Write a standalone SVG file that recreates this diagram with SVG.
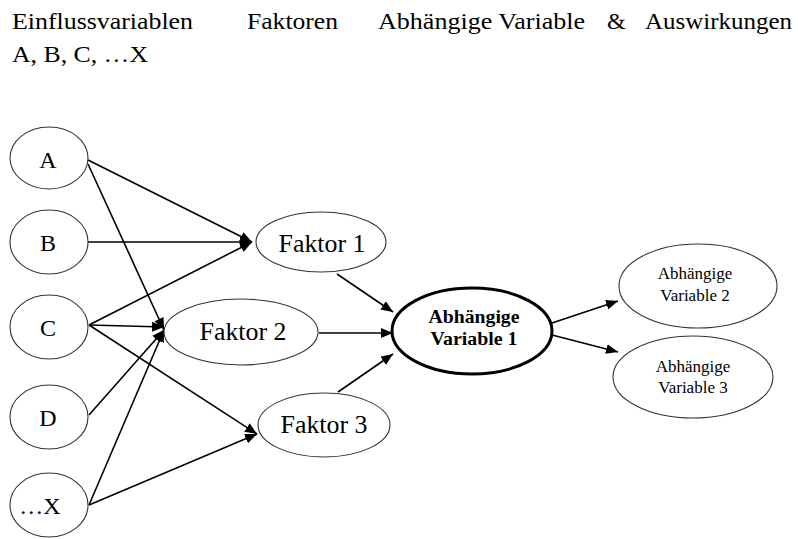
<svg xmlns="http://www.w3.org/2000/svg" width="798" height="539" viewBox="0 0 798 539">
<style>
text{font-family:"Liberation Serif","Times New Roman",serif;fill:#000}
.hd{font-size:24px}
.n{fill:#fff;stroke:#333;stroke-width:1.1}
.lb{font-size:24px;text-anchor:middle}
.fk{font-size:25px;text-anchor:middle}
.sm{font-size:17px;text-anchor:middle}
.bd{font-size:18px;font-weight:bold;text-anchor:middle}
.c line{stroke:#000;stroke-width:1.6;marker-end:url(#ah)}
</style>
<defs>
<marker id="ah" viewBox="0 0 12 10" refX="12" refY="5" markerWidth="12" markerHeight="10" markerUnits="userSpaceOnUse" orient="auto">
<path d="M0,0 L12,5 L0,10 z" fill="#000"/>
</marker>
</defs>
<g id="header">
<text class="hd" x="12" y="29" textLength="181" lengthAdjust="spacingAndGlyphs">Einflussvariablen</text>
<text class="hd" x="247" y="29" textLength="91" lengthAdjust="spacingAndGlyphs">Faktoren</text>
<text class="hd" x="378" y="29" textLength="207" lengthAdjust="spacingAndGlyphs">Abhängige Variable</text>
<text class="hd" x="607" y="29">&amp;</text>
<text class="hd" x="645" y="29" textLength="147" lengthAdjust="spacingAndGlyphs">Auswirkungen</text>
<text class="hd" x="12" y="62" textLength="136" lengthAdjust="spacingAndGlyphs">A, B, C, …X</text>
</g>
<g class="c" id="connectors">
<line x1="88" y1="160" x2="252" y2="242"/>
<line x1="88" y1="164" x2="164" y2="330"/>
<line x1="88" y1="242" x2="252" y2="242"/>
<line x1="89" y1="325" x2="252" y2="242"/>
<line x1="89" y1="325" x2="164" y2="327"/>
<line x1="89" y1="325" x2="257" y2="434"/>
<line x1="89" y1="415" x2="164" y2="330"/>
<line x1="89" y1="505" x2="164" y2="330"/>
<line x1="89" y1="505" x2="257" y2="434"/>
<line x1="337" y1="274" x2="393" y2="312"/>
<line x1="319" y1="333" x2="393" y2="333"/>
<line x1="338" y1="392" x2="393" y2="354"/>
<line x1="552" y1="323" x2="618" y2="301"/>
<line x1="552" y1="335" x2="618" y2="352"/>
</g>
<g id="nA"><ellipse class="n" cx="49" cy="158" rx="39" ry="31"/><text class="lb" x="48" y="168">A</text></g>
<g id="nB"><ellipse class="n" cx="49" cy="242" rx="39" ry="32"/><text class="lb" x="48" y="251">B</text></g>
<g id="nC"><ellipse class="n" cx="49" cy="327" rx="39" ry="32"/><text class="lb" x="48" y="336">C</text></g>
<g id="nD"><ellipse class="n" cx="49" cy="417" rx="39" ry="32"/><text class="lb" x="48" y="426">D</text></g>
<g id="nX"><ellipse class="n" cx="49" cy="505" rx="39" ry="32"/><text class="lb" x="40" y="514">…X</text></g>
<g id="f1"><ellipse class="n" cx="321" cy="242" rx="65" ry="30"/><text class="fk" x="322" y="252" textLength="87" lengthAdjust="spacingAndGlyphs">Faktor 1</text></g>
<g id="f2"><ellipse class="n" cx="241" cy="332" rx="77" ry="33"/><text class="fk" x="243" y="340" textLength="87" lengthAdjust="spacingAndGlyphs">Faktor 2</text></g>
<g id="f3"><ellipse class="n" cx="324" cy="425" rx="66" ry="32"/><text class="fk" x="324" y="433" textLength="87" lengthAdjust="spacingAndGlyphs">Faktor 3</text></g>
<g id="av1"><ellipse cx="472" cy="331" rx="80" ry="43" fill="#fff" stroke="#000" stroke-width="3"/><text class="bd" x="474" y="323" textLength="91" lengthAdjust="spacingAndGlyphs">Abhängige</text><text class="bd" x="474" y="345" textLength="87" lengthAdjust="spacingAndGlyphs">Variable 1</text></g>
<g id="av2"><ellipse class="n" cx="698" cy="286" rx="79" ry="42"/><text class="sm" x="695" y="279">Abhängige</text><text class="sm" x="695" y="301">Variable 2</text></g>
<g id="av3"><ellipse class="n" cx="693" cy="377" rx="80" ry="41"/><text class="sm" x="693" y="372">Abhängige</text><text class="sm" x="693" y="393">Variable 3</text></g>
</svg>
